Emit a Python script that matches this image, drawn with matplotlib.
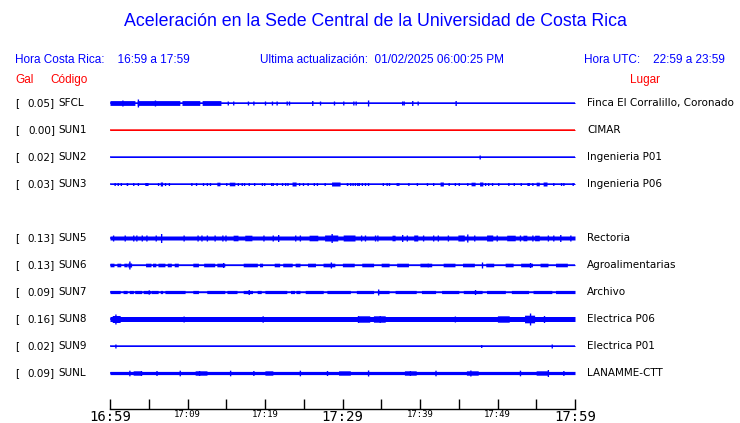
import matplotlib
matplotlib.use("Agg")
import matplotlib.pyplot as plt
import numpy as np

# station rows (top to bottom), row 4 is an empty slot
codes = ["SFCL", "SUN1", "SUN2", "SUN3", "SUN5", "SUN6", "SUN7", "SUN8", "SUN9", "SUNL"]
rows = [0, 1, 2, 3, 5, 6, 7, 8, 9, 10]
peaks = [0.05, 0.00, 0.02, 0.03, 0.13, 0.13, 0.09, 0.16, 0.02, 0.09]
places = ["Finca El Corralillo, Coronado", "CIMAR", "Ingenieria P01", "Ingenieria P06",
          "Rectoria", "Agroalimentarias", "Archivo", "Electrica P06", "Electrica P01",
          "LANAMME-CTT"]
trace_colors = ["blue", "red", "blue", "blue", "blue", "blue", "blue", "blue", "blue", "blue"]

# trace envelope (minutes after 16:59, half amplitude in px)
base_amp = [0.5, 0.5, 0.5, 0.5, 2.0, 0.6, 0.7, 2.5, 0.5, 1.6]
blocks = {
    "SFCL": [(0, 3.2, 2.4), (3.5, 9.0, 2.4), (9.3, 11.6, 2.4), (11.9, 14.3, 2.4)],
    "SUN1": [],
    "SUN2": [],
    "SUN3": [(2.1, 2.3, 1.5), (4.5, 4.9, 1.5), (6.5, 6.8, 2.0), (13.8, 14.2, 1.8),
             (15.4, 16.1, 1.8), (23.5, 24.0, 2.0), (28.6, 29.7, 2.0), (30.5, 30.7, 1.5),
             (42.6, 43.0, 2.0), (46.6, 47.1, 1.8), (47.7, 48.1, 2.0), (53.8, 54.1, 1.5),
             (55.0, 55.4, 1.8), (55.9, 56.4, 2.0)],
    "SUN5": [(15.9, 16.5, 2.8), (17.4, 18.3, 2.8), (25.7, 26.8, 2.8), (27.7, 29.4, 3.0),
             (30.1, 31.6, 3.0), (36.4, 36.8, 2.8), (39.2, 39.7, 3.0), (44.9, 45.7, 3.0),
             (48.6, 49.4, 3.0), (51.2, 52.3, 2.8), (53.3, 53.8, 2.8), (54.8, 55.4, 2.8)],
    "SUN6": [(0, 0.5, 1.8), (0.9, 1.4, 1.8), (1.8, 2.2, 1.8), (2.3, 2.8, 2.0), (4.6, 5.3, 1.8),
             (5.5, 5.9, 1.8), (6.2, 7.1, 1.8), (7.4, 7.9, 1.8), (8.3, 8.8, 1.8), (10.7, 11.4, 1.8),
             (12.1, 13.5, 1.8), (13.8, 14.8, 1.8), (17.2, 19.0, 1.8), (19.3, 19.7, 1.8),
             (21.2, 21.9, 1.8), (22.3, 23.5, 1.8), (23.9, 24.5, 1.8), (25.5, 26.5, 1.8),
             (27.5, 29.0, 1.8), (30.0, 31.5, 1.8), (32.5, 34.0, 1.8), (35.0, 36.0, 1.8),
             (37.0, 38.5, 1.8), (40.0, 41.5, 1.8), (43.0, 44.5, 1.8), (45.5, 47.0, 1.8),
             (48.5, 49.5, 1.8), (51.0, 52.0, 1.8), (53.0, 54.5, 1.8), (55.5, 56.5, 1.8),
             (57.5, 59.0, 1.8)],
    "SUN7": [(0, 1.3, 1.6), (1.7, 2.2, 1.6), (2.5, 3.0, 1.6), (3.2, 4.1, 1.6), (4.3, 5.2, 1.6),
             (5.3, 6.2, 1.6), (6.5, 6.8, 1.6), (7.1, 9.7, 1.6), (10.7, 11.4, 1.6),
             (12.5, 14.8, 1.6), (15.1, 16.4, 1.6), (17.2, 18.4, 1.6), (19.0, 19.5, 1.6),
             (20.0, 22.8, 1.6), (23.3, 23.8, 1.6), (24.0, 24.5, 1.6), (25.2, 27.5, 1.6),
             (28.0, 31.0, 1.6), (31.8, 34.0, 1.6), (34.5, 36.0, 1.6), (36.8, 39.5, 1.6),
             (40.2, 42.0, 1.6), (42.8, 45.0, 1.6), (45.6, 48.0, 1.6), (48.6, 51.0, 1.6),
             (51.8, 54.0, 1.6), (54.6, 57.0, 1.6), (57.5, 60.0, 1.6)],
    "SUN8": [(0.3, 1.3, 3.5), (32.0, 33.5, 3.2), (34.0, 35.5, 3.2), (50.0, 51.5, 3.2),
             (53.5, 54.8, 3.8)],
    "SUN9": [],
    "SUNL": [(3.0, 4.0, 2.2), (11.0, 12.5, 2.2), (20.0, 21.0, 2.2), (29.5, 31.0, 2.2),
             (38.0, 39.5, 2.2), (46.0, 47.5, 2.2), (55.0, 56.5, 2.2)],
}
spikes = {
    "SFCL": [(1.6, 3.0), (3.6, 4.0), (5.8, 3.0), (15.2, 2.0), (15.9, 2.0), (17.8, 2.0),
             (18.5, 2.0), (20.0, 2.0), (20.9, 2.0), (21.5, 2.0), (22.8, 2.0), (23.1, 2.0),
             (26.1, 2.5), (27.1, 2.0), (28.9, 2.0), (30.1, 2.0), (31.4, 2.0), (31.7, 2.0),
             (33.3, 3.0), (37.7, 2.0), (37.9, 2.0), (39.0, 2.5), (39.7, 2.0), (44.6, 2.5)],
    "SUN1": [],
    "SUN2": [(47.7, 2.0)],
    "SUN3": [(0.6, 1.5), (1.0, 1.5), (1.4, 1.5), (3.0, 1.5), (3.6, 1.5), (6.2, 1.5), (7.1, 1.5),
             (7.6, 1.5), (10.5, 1.5), (11.1, 1.5), (12.0, 1.5), (12.5, 1.5), (12.9, 1.5),
             (15.0, 1.5), (16.5, 1.5), (17.0, 1.5), (17.3, 1.5), (17.9, 1.5), (18.6, 1.5),
             (19.6, 1.5), (19.9, 1.5), (20.8, 1.5), (21.0, 1.5), (21.5, 1.5), (22.2, 1.5),
             (22.6, 1.5), (22.9, 1.5), (24.4, 1.5), (24.9, 1.5), (25.5, 1.5), (26.3, 1.5),
             (26.7, 1.5), (27.7, 1.5), (31.0, 1.5), (31.3, 1.5), (31.6, 1.5), (31.9, 1.5),
             (32.1, 1.5), (32.5, 1.5), (32.9, 1.5), (33.3, 1.5), (35.2, 1.5), (35.7, 1.5),
             (36.0, 1.5), (37.0, 1.5), (37.2, 1.5), (38.5, 1.5), (39.6, 1.5), (40.9, 1.5),
             (41.7, 1.5), (43.7, 1.5), (44.5, 1.5), (45.0, 1.5), (46.1, 1.5), (48.4, 1.5),
             (48.8, 1.5), (49.3, 1.5), (50.1, 1.5), (51.4, 1.5), (52.1, 1.5), (53.0, 1.5),
             (54.5, 1.5), (57.2, 1.5), (58.2, 1.5), (58.5, 1.5), (59.7, 1.5)],
    "SUN5": [(0.4, 3.0), (1.9, 3.0), (3.0, 3.0), (3.4, 3.0), (4.1, 3.0), (4.7, 3.0), (5.9, 3.0),
             (6.6, 4.5), (9.5, 3.0), (11.3, 3.0), (11.8, 3.0), (12.5, 3.0), (13.5, 3.0),
             (14.5, 3.0), (14.9, 3.0), (19.8, 3.0), (21.0, 3.0), (21.7, 3.5), (23.9, 3.0),
             (24.5, 3.0), (28.6, 4.5), (32.4, 3.0), (32.9, 3.0), (34.2, 3.0), (34.5, 3.0),
             (37.7, 3.5), (38.3, 3.0), (40.4, 3.0), (41.7, 3.0), (42.3, 3.0), (43.6, 3.0),
             (46.1, 4.0), (47.0, 3.0), (49.9, 3.0), (52.9, 3.0), (54.5, 3.0), (56.5, 3.0),
             (57.2, 3.0), (58.1, 3.5), (59.4, 3.0)],
    "SUN6": [(2.5, 4.0), (14.6, 2.5), (28.5, 3.0), (41.0, 2.0), (48.0, 3.0), (54.2, 2.5)],
    "SUN7": [(5.0, 2.2), (17.9, 2.5), (34.6, 3.0), (47.1, 2.5)],
    "SUN8": [(0.7, 5.0), (9.5, 3.0), (19.7, 3.2), (32.0, 3.5), (34.8, 3.5), (44.5, 3.0),
             (50.5, 3.0), (54.2, 6.0), (56.0, 3.5)],
    "SUN9": [(0.7, 2.0), (47.9, 1.5), (57.0, 2.0)],
    "SUNL": [(2.5, 2.8), (4.0, 2.5), (6.0, 2.5), (9.0, 2.8), (11.5, 2.5), (15.5, 2.8),
             (18.5, 2.5), (24.5, 2.8), (28.0, 2.5), (33.3, 3.0), (38.7, 2.5), (42.0, 2.8),
             (46.5, 3.0), (52.9, 2.8), (56.5, 3.5), (58.5, 2.5)],
}

tick_minutes = np.arange(0, 61, 5)
major_labels = {0: "16:59", 30: "17:29", 60: "17:59"}
minor_labels = {10: "17:09", 20: "17:19", 40: "17:39", 50: "17:49"}

W, H = 740, 423
fig = plt.figure(figsize=(W / 100, H / 100), dpi=100)
fig.patch.set_facecolor("white")

# axes in pixel placement: x 110..575, y 90..409
ax_top, ax_bot = 90, 409
ax = fig.add_axes([110 / W, 1 - ax_bot / H, 465 / W, (ax_bot - ax_top) / H])
row0, dy = 103, 27
ax.set_xlim(0, 60)
ax.set_ylim((ax_bot - row0) / dy, (ax_top - row0) / dy)

t = np.linspace(0, 60, 2401)
px = 1.0 / dy
for code, r, col, b in zip(codes, rows, trace_colors, base_amp):
    env = np.full_like(t, b)
    for s, e, a in blocks[code]:
        env[(t >= s) & (t <= e)] = a
    for m, a in spikes[code]:
        sel = np.abs(t - m) <= 0.08
        env[sel] = np.maximum(env[sel], a)
    ax.plot(t, np.full_like(t, r), color=col, lw=1.0)
    ax.fill_between(t, r - env * px, r + env * px, color=col, lw=0, step="mid")

for s in ["top", "left", "right"]:
    ax.spines[s].set_visible(False)
ax.spines["bottom"].set_linewidth(1.0)
ax.set_yticks([])
ax.set_xticks(tick_minutes)
ax.set_xticklabels([])
ax.tick_params(axis="x", direction="in", length=7, width=1, color="black")

# time labels just under the axis line: big ones every 30 min, small ones between
mono = "DejaVu Sans Mono"
xt = ax.get_xaxis_transform()
for m, lab in major_labels.items():
    ax.text(m, -0.003, lab, transform=xt, ha="center", va="top", fontsize=10, family=mono)
for m, lab in minor_labels.items():
    ax.text(m, -0.003, lab, transform=xt, ha="center", va="top", fontsize=6.5, family=mono)

# station labels
for code, r, pk, pl in zip(codes, rows, peaks, places):
    ypix = row0 + r * dy
    yf = 1 - ypix / H
    fig.text(15 / W, yf, "[", ha="left", va="center", fontsize=7.5)
    fig.text(55 / W, yf, f"{pk:.2f}]", ha="right", va="center", fontsize=7.5)
    fig.text(58 / W, yf, code, ha="left", va="center", fontsize=7.5)
    fig.text(587 / W, yf, pl, ha="left", va="center", fontsize=7.5)

hf = "Liberation Sans"
fig.text(375 / W, 1 - 22 / H, "Aceleración en la Sede Central de la Universidad de Costa Rica",
         ha="center", va="center", color="blue", fontsize=12.8, family=hf)
fig.text(15 / W, 1 - 60 / H, "Hora Costa Rica:    16:59 a 17:59", ha="left", va="center",
         color="blue", fontsize=8.5, family=hf)
fig.text(260 / W, 1 - 60 / H, "Ultima actualización:  01/02/2025 06:00:25 PM", ha="left",
         va="center", color="blue", fontsize=8.5, family=hf)
fig.text(725 / W, 1 - 60 / H, "Hora UTC:    22:59 a 23:59", ha="right", va="center",
         color="blue", fontsize=8.5, family=hf)
fig.text(15 / W, 1 - 80 / H, "Gal", ha="left", va="center", color="red", fontsize=8.5, family=hf)
fig.text(50 / W, 1 - 80 / H, "Código", ha="left", va="center", color="red", fontsize=8.5, family=hf)
fig.text(630 / W, 1 - 80 / H, "Lugar", ha="left", va="center", color="red", fontsize=8.5, family=hf)

fig.savefig("out.png", dpi=100)
